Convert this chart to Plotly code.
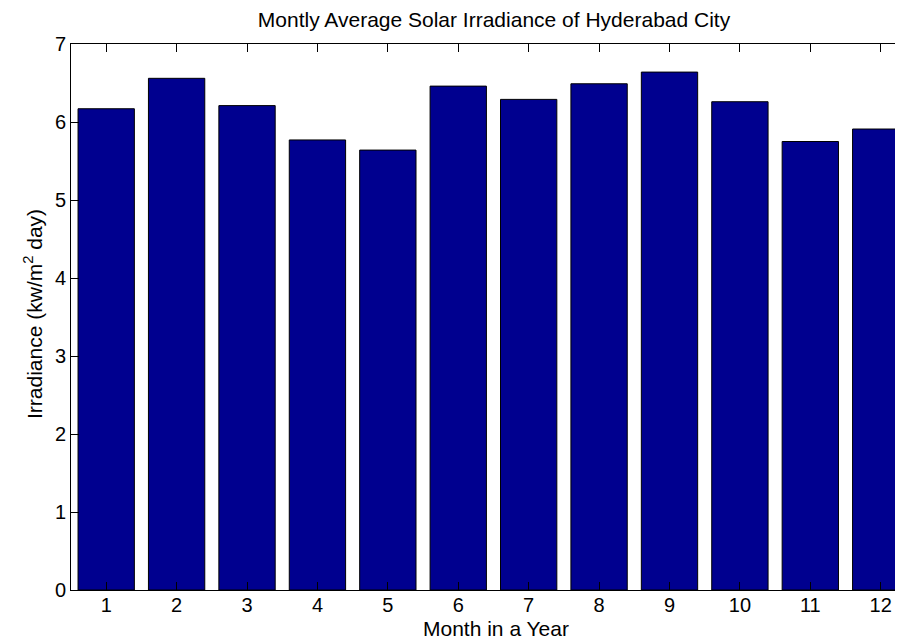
import plotly.graph_objects as go

# monthly average irradiance
months = [1, 2, 3, 4, 5, 6, 7, 8, 9, 10, 11, 12]
irradiance = [6.17, 6.56, 6.21, 5.77, 5.64, 6.46, 6.29, 6.49, 6.64, 6.26, 5.75, 5.91]
y_ticks = [0, 1, 2, 3, 4, 5, 6, 7]

font = "Liberation Sans, Arial, sans-serif"
W, H = 903, 641

fig = go.Figure(go.Bar(
    x=months,
    y=irradiance,
    width=0.8,
    marker=dict(color="#00008F", line=dict(color="black", width=1)),
))

fig.update_layout(
    width=W, height=H,
    margin=dict(l=63, r=0, t=36, b=59, autoexpand=False),
    plot_bgcolor="white", paper_bgcolor="white",
    font=dict(family=font, size=21, color="black"),
    showlegend=False,
    title=dict(text="Montly Average Solar Irradiance of Hyderabad City",
               x=486 / W, xanchor="center",
               y=1 - 12 / H, yanchor="middle",
               xref="container", yref="container",
               font=dict(family=font, size=21, color="black")),
)

# axis titles placed as annotations so they sit where the reference has them
fig.add_annotation(text="Month in a Year", xref="paper", yref="paper",
                   x=(488 - 63) / (W - 63), y=-(620 - 582) / (582 - 36),
                   xanchor="center", yanchor="middle", showarrow=False,
                   borderpad=0,
                   font=dict(family=font, size=21, color="black"))
fig.add_annotation(text="Irradiance (kw/m<sup>2</sup> day)", xref="paper", yref="paper",
                   x=-(63 - 25) / (W - 63), y=(582 - 306) / (582 - 36),
                   xanchor="center", yanchor="middle", textangle=-90,
                   showarrow=False,
                   font=dict(family=font, size=21, color="black"))

fig.update_xaxes(
    range=[0.5, 12.43], tickvals=months, ticks="inside", ticklen=8,
    tickcolor="black", showline=True, linecolor="black", linewidth=1,
    mirror="ticks", showgrid=False, zeroline=False,
    tickfont=dict(size=20), ticklabelstandoff=-3,
)
fig.update_yaxes(
    range=[0, 7], tickvals=y_ticks, ticks="inside", ticklen=8,
    tickcolor="black", showline=True, linecolor="black", linewidth=1,
    mirror="ticks", showgrid=False, zeroline=False,
    tickfont=dict(size=20),
)

fig.write_html("out.html")
